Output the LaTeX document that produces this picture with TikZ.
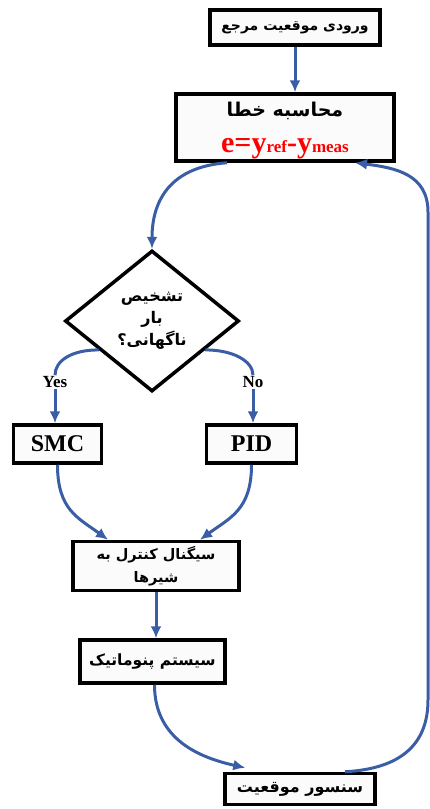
\documentclass[tikz,border=0pt]{standalone}
\usepackage{fontspec}
\setmainfont{Liberation Serif}
\newfontfamily\fafont[Script=Arabic]{DejaVu Sans}
\TeXXeTstate=1
\usetikzlibrary{arrows.meta, calc, shapes.geometric}
\definecolor{flowblue}{RGB}{58,94,166}
\newcommand{\fa}[1]{\beginR#1\endR}
\tikzset{
  box/.style={draw, line width=3.5pt, fill=gray!3, align=center, inner sep=2pt},
  decision/.style={draw, diamond, line width=3.5pt, fill=white, align=center, inner sep=0pt, minimum width=174pt, minimum height=141pt,
    font=\fafont\bfseries\fontsize{16}{22}\selectfont},
  fatext/.style={font=\fafont\bfseries\fontsize{#1}{23}\selectfont},
  fatext/.default=14.5,
  branchtext/.style={font=\rmfamily\bfseries\fontsize{17}{17}\selectfont, inner sep=1pt},
  ctrltext/.style={font=\rmfamily\bfseries\fontsize{24}{24}\selectfont},
  flow/.style={-{Latex[length=12pt,width=11pt]}, line width=3pt, flowblue},
  link/.style={line width=3pt, flowblue}
}

\begin{document}
\begin{tikzpicture}[x=1pt, y=-1pt]
    \useasboundingbox (0,0) rectangle (430,809);

    \node[box, fatext=14, minimum width=170pt, minimum height=35pt] (ref) at (295,27.5) {\fa{ورودی موقعیت مرجع}};
    \node[box, fatext, minimum width=218pt, minimum height=67pt, inner sep=0pt] (err) at (285,127.5)
      {{\fontsize{19}{20}\selectfont\rule{0pt}{21pt}\fa{محاسبه خطا}}\\[13pt]
       {\rmfamily\color{red}\fontsize{30}{20}\selectfont e=y\fontsize{17}{17}\selectfont ref\fontsize{30}{20}\selectfont -y\fontsize{17}{17}\selectfont meas}};
    \node[decision] (dec) at (152,321) {\fa{تشخیص}\\\fa{بار}\\\fa{ناگهانی؟}};
    \node[branchtext] (yes) at (55,382) {Yes};
    \node[branchtext] (no) at (253,382) {No};
    \node[box, ctrltext, minimum width=88pt, minimum height=38pt] (smc) at (57.5,444) {SMC};
    \node[box, ctrltext, minimum width=90pt, minimum height=38pt] (pid) at (251.5,444) {PID};
    \node[box, fatext, minimum width=166pt, minimum height=49pt] (sig) at (156,566) {\fa{سیگنال کنترل به}\\\fa{شیرها}};
    \node[box, fatext=15.5, minimum width=145pt, minimum height=43pt] (pne) at (152.5,661.5) {\fa{سیستم پنوماتیک}};
    \node[box, fatext=16, minimum width=150pt, minimum height=31pt] (sen) at (300,789) {\fa{سنسور موقعیت}};

    \coordinate (fbl) at (428,700);
    \coordinate (fbh) at (428,212);

    \draw[flow] (ref.south) -- (ref.south |- err.north);
    \draw[flow] ([xshift=-58pt]err.south) .. controls +(-55,4) and +(0,-50) .. (dec.north);
    \draw[link] ($(dec.west)!0.4!(dec.south)$) .. controls +(-28,0) and +(0,-14) .. (yes.north);
    \draw[link] ($(dec.east)!0.4!(dec.south)$) .. controls +(28,0) and +(0,-14) .. (no.north);
    \draw[flow] (yes.south) -- (yes.south |- smc.north);
    \draw[flow] (no.south) -- (no.south |- pid.north);
    \draw[flow] (smc.south) .. controls +(0,45) and +(-30,-22) .. ([xshift=-48pt]sig.north);
    \draw[flow] (pid.south) .. controls +(0,45) and +(30,-22) .. ([xshift=44pt]sig.north);
    \draw[flow] (sig.south) -- (sig.south |- pne.north);
    \draw[flow] ([xshift=2pt]pne.south) .. controls +(0,55) and +(-45,-10) .. ([xshift=22pt,yshift=4pt]sen.north west);
    \draw[flow] ([xshift=45pt]sen.north) .. controls +(55,-3) and +(0,45) .. (fbl) -- (fbh)
      .. controls +(0,-38) and +(40,5) .. ([xshift=70pt]err.south);
\end{tikzpicture}
\end{document}
